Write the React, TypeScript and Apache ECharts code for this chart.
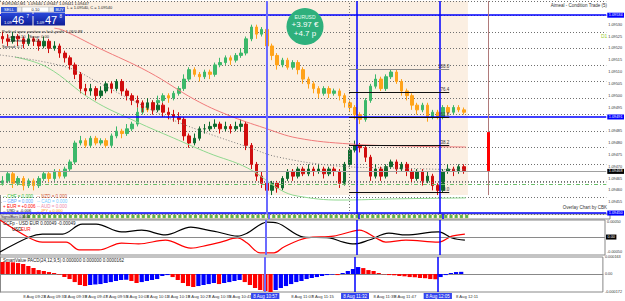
import React, { useEffect, useRef } from 'react';
import * as echarts from 'echarts';

const FONT = 'Liberation Sans, Arial, sans-serif';
const BASE = 1.094; // prices below are pipettes above 1.09400
const TOTAL = 117;

// EURUSD (dark candles)
const aOpen = [125,124,123,125,124,122,124,123,121,123, 120,121,118,116,113,109,103,102,103,100, 102,105,103,106,102,100,98,97,95,97, 94,96,93,92,91,90,83,80,82,86, 86,87,88,86,87,86,87,88,79,71, 66,63,60,63,61,65,68,66,69,67, 69,68,69,67,69,68,63,71,77,79, 78,74,66,69,66,70,72,69,71,68, 65,68,64,66,62,60,68,69,68,70];
const aClose = [124,123,125,124,122,124,123,121,123,120, 121,118,116,113,109,103,102,103,100,102, 105,103,106,102,100,98,97,95,97,94, 96,93,92,91,90,83,80,82,86,86, 87,88,86,87,86,87,88,79,71,66, 63,60,63,61,65,68,66,69,67,69, 68,69,67,69,68,63,71,77,79,78, 74,66,69,66,70,72,69,71,68,65, 68,64,66,62,60,68,69,68,70,68];
const aHigh = [127,126,127,126,125,126,125,124,125,124, 123,122,119,117,114,110,105,105,104,104, 106,106,107,107,103,101,100,98,99,98, 97,97,95,94,93,91,84,84,87,88, 89,90,89,89,88,89,90,89,80,72, 68,65,64,64,66,69,69,70,70,71, 70,71,70,70,70,69,72,78,81,80, 79,75,71,70,71,73,73,72,72,69, 69,69,68,67,63,69,71,70,71,71];
const aLow = [122,121,122,121,120,121,121,119,120,118, 119,116,114,111,107,101,100,100,98,99, 101,101,102,100,98,96,95,93,94,92, 93,91,90,89,88,81,78,79,81,84, 85,86,84,85,84,85,85,77,69,64, 61,58,58,59,60,64,64,65,66,66, 66,67,65,66,66,61,62,70,76,76, 72,64,65,64,65,69,67,68,66,63, 64,62,63,60,58,59,67,66,67,67];

// Overlay symbol (orange / green candles)
const bOpen = [63,64,67,63,65,62,64,62,65,67, 65,68,66,69,72,80,81,79,82,80, 81,79,83,85,84,86,88,93,96,94, 97,98,100,99,101,103,107,111,109,108, 110,109,113,114,116,115,117,118,124,129, 126,128,121,117,113,115,112,114,111,107, 105,103,101,103,101,102,100,97,95,92, 90,98,104,107,103,108,110,106,102,100, 96,94,96,91,93,91,95,93,95,94];
const bClose = [64,67,63,65,62,64,62,65,67,65, 68,66,69,72,80,81,79,82,80,81, 79,83,85,84,86,88,93,96,94,97, 98,100,99,101,103,107,111,109,108,110, 109,113,114,116,115,117,118,124,129,126, 128,121,117,113,115,112,114,111,107,105, 103,101,103,101,102,100,97,95,92,90, 98,104,107,103,108,110,106,102,100,96, 94,96,91,93,91,95,93,95,94,93];
const bHigh = [66,68,68,66,66,65,65,66,68,68, 69,69,70,73,81,83,82,83,83,82, 82,84,87,86,88,89,95,97,97,98, 100,101,101,102,104,109,112,112,110,111, 111,114,116,117,117,118,120,125,130,130, 129,129,122,118,116,116,115,115,112,108, 106,104,104,104,103,103,101,98,96,93, 99,105,109,108,109,111,111,107,103,101, 97,97,97,94,94,96,96,96,96,95];
const bLow = [62,63,61,62,60,61,60,61,64,63, 64,65,65,68,71,79,78,78,79,79, 78,78,82,82,83,85,87,92,93,93, 96,97,97,98,100,102,106,108,106,107, 107,108,112,113,113,114,116,117,123,124, 125,119,115,111,112,111,111,109,105,103, 101,99,100,99,100,98,95,93,90,88, 89,97,103,102,102,107,105,100,98,94, 92,93,89,90,90,90,92,92,93,92];

// Moving averages: [bar position, pipettes]
const maRed = [[10.5,128.5],[12.1,127.7],[19.1,120.1],[28.7,110.0],[37.7,98.2],[44.0,91.8],[51.1,86.3],[57.4,82.1],[67.5,79.6],[78.5,78.7],[89.9,78.3]];
const maGreen = [[2.9,116.3],[9.0,112.1],[17.8,98.2],[26.4,88.9],[33.5,82.1],[40.2,75.8],[47.8,69.4],[54.2,60.1],[57.4,57.6],[65.6,55.9],[76.5,56.4],[89.9,56.8]];
const maGray = [[0,117.2],[12.8,112.1],[19.1,105.4],[25.4,98.2],[32.5,90.6],[38.3,85.5],[47.8,78.3],[53.6,74.1],[65.1,70.3],[76.5,69.4],[89.9,68.6]];

// Fibonacci levels
const fibLevels = [111.3, 101.6, 91.0, 79.2, 59.3];
const fibNames = ['100.0', '76.4', '61.8', '38.2', '0.0'];
const fibFrom = 67.35;
const fibTo = 86.7;

// Horizontal price lines
const blueLines = [134, 91, 50.4];
const currentPrice = 68;
const dottedLine = 63.5;
const dashLine = 62.7;

// Vertical lines (bar position) and their time stamps
const vLines = [51.47, 68.9, 84.96];
const vTimes = ['8 Aug 10:57', '8 Aug 11:32', '8 Aug 12:05'];
const dottedV = 67.35;
const brownV = 94.15;
const spreadBar = [84.6, 68.2];

// Time axis labels (every 4th bar)
const timeLabels = ['8 Aug 2023','8 Aug 09:23','8 Aug 09:31','8 Aug 09:39','8 Aug 09:47','8 Aug 09:55','8 Aug 10:03','8 Aug 10:11','8 Aug 10:19','8 Aug 10:27','8 Aug 10:35','8 Aug 10:43','8 Aug 10:51','8 Aug 10:59','8 Aug 11:07','8 Aug 11:15','8 Aug 11:23','8 Aug 11:31','8 Aug 11:39','8 Aug 11:47','8 Aug 11:55','8 Aug 12:03','8 Aug 12:11'];

// Signal strip
const stripSignal = [0,0,0,0,0,0,0,0,0,0, 0,0,0,0,0,0,0,0,0,0, 0,0,0,0,0,0,0,0,0,0, 0,0,0,0,0,0,0,0,0,0, 0,0,0,0,0,0,0,0,0,0, 0,0,0,0,0,0,0,0,0,0, 0,0,0,0,0,0,0,0,0,0, 0,0,0,0,0,0,0,0,0,0, 0,0,0,0,0,0,0,0,0,0];

// CCFp (units 1e-5): [bar position, value]
const ccfUSD = [[0,-50],[5.7,0],[8.2,10],[12.1,10],[15.9,43],[18.6,43],[23.5,17],[27.4,23],[32.0,7],[36.9,33],[40.2,23],[42.1,17],[45.9,3],[47.8,13],[51.7,50],[53.6,47],[58.7,0],[63.7,-3],[66.4,-17],[68.5,-23],[71.4,-10],[75.2,13],[78.5,7],[84.8,17],[87.4,-3],[89.9,-10]];
const ccfEUR = [[0,57],[5.7,-3],[8.2,-17],[12.8,-17],[15.3,-43],[19.1,-43],[23.5,-20],[26.8,-23],[32.0,-10],[36.9,-37],[40.2,-27],[42.7,-17],[45.9,-3],[47.8,-20],[50.3,-53],[53.0,-53],[54.9,-33],[59.3,-3],[64.5,3],[68.3,20],[69.5,23],[72.7,-3],[74.6,-17],[78.5,-10],[84.8,-17],[87.4,3],[89.9,10]];

// Histogram (units 1e-6)
const histVals = [115,115,112,105,96,77,57,38,29,19, 10,-5,-29,-48,-77,-105,-115,-105,-100,-96, -86,-77,-67,-57,-55,-67,-86,-77,-67,-57, -48,-19,-10,-29,-57,-86,-115,-124,-115,-105, -96,-86,-96,-86,-77,-67,-57,-77,-105,-134, -153,-163,-172,-153,-134,-115,-96,-77,-67,-48, -38,-29,-19,-10,-5,-10,10,29,48,67, 57,38,29,10,-3,-10,-12,-19,-22,-29, -31,-38,-40,-48,-50,-29,-10,10,19,21];

const fmtPrice = (v: number) => (BASE + v / 1e5).toFixed(5);

function buildOption() {
  // a tick label is hidden where a highlighted time stamp covers it
  const covered = (i: number) => vLines.some((c) => i + 4 > c - 2.6 && i < c + 2.6);
  const cats = Array.from({ length: TOTAL }, (_, i) =>
    i % 4 === 0 && i / 4 < timeLabels.length && !covered(i) ? timeLabels[i / 4] : ''
  );
  const boxed = [...blueLines, currentPrice];
  const priceTick = (v: number) => (boxed.some((b) => Math.abs(b - v) < 1.9) ? '' : fmtPrice(v));

  const aData = aOpen.map((o, i) => [o, aClose[i], aLow[i], aHigh[i]]);
  const bData = bOpen.map((o, i) => [o, bClose[i], bLow[i], bHigh[i]]);
  const histData = histVals.map((v, i) => ({
    value: v,
    itemStyle: { color: i > 0 && v > histVals[i - 1] ? '#0000ff' : '#ff0000' },
  }));

  const boxLabel = (text: string, bg: string) => ({
    show: true, position: 'end', distance: 1, formatter: text, color: '#fff',
    backgroundColor: bg, padding: [1, 1.5, 0, 1.5], fontSize: 3.8, fontFamily: FONT,
  });

  const vStyles = [
    { color: '#6b6bff', width: 2 },
    { color: '#0000ff', width: 1.5 },
    { color: '#0000ff', width: 1.5 },
  ];
  const vMarks = (withTime: boolean) =>
    vLines.map((x, i) => ({
      xAxis: x,
      lineStyle: { ...vStyles[i], type: 'solid' },
      label: withTime
        ? { show: true, position: 'start', distance: 1, formatter: vTimes[i], color: '#fff', backgroundColor: '#3344ee', padding: [1, 2, 0, 2], fontSize: 4.5, fontFamily: FONT }
        : { show: false },
    }));

  const mainMarks: any[] = [
    ...blueLines.map((y) => ({ yAxis: y, lineStyle: { color: '#0000ff', width: 1.5, type: 'solid' }, label: boxLabel(fmtPrice(y), '#0000ff') })),
    { yAxis: currentPrice, lineStyle: { color: '#a0a0a0', width: 1, type: 'solid' }, label: boxLabel(fmtPrice(currentPrice), '#000') },
    { yAxis: dottedLine, lineStyle: { color: '#888', width: 1, type: [1, 2] }, label: { show: false } },
    { yAxis: dashLine, lineStyle: { color: '#6cbf6c', width: 1, type: [4, 2, 1, 2] }, label: { show: false } },
    ...vMarks(false),
    { xAxis: dottedV, lineStyle: { color: '#777', width: 1, type: [1, 2] }, label: { show: false } },
    [{ coord: [brownV, 140], lineStyle: { color: '#b07a7a', width: 1, type: 'solid' }, label: { show: false } }, { coord: [brownV, 58] }],
    [{ coord: [brownV, spreadBar[0]], lineStyle: { color: '#ff0000', width: 3, type: 'solid' }, label: { show: false } }, { coord: [brownV, spreadBar[1]] }],
    ...fibLevels.map((y, i) => [
      {
        coord: [fibFrom, y],
        lineStyle: { color: i === 0 ? '#8a8a8a' : '#111', width: 1, type: 'solid' },
        label: { show: true, position: 'insideEndTop', distance: 0, formatter: fibNames[i], fontSize: 4.5, color: '#333', fontFamily: FONT },
      },
      { coord: [fibTo, y] },
    ]),
  ];

  const elements: any[] = [
    // header texts
    { type: 'text', x: 2, y: 1, z: 100, style: { text: 'EURUSD,M1  1.09440 1.09447 1.09441 1.09447', fill: '#222', fontSize: 4, fontFamily: FONT } },
    { type: 'text', x: 67, y: 5, z: 100, style: { text: 'L = 1.09540, C = 1.09540', fill: '#222', fontSize: 4, fontFamily: FONT } },
    { type: 'text', x: 607, y: 3, z: 100, style: { text: 'Aimeal - Condition Trade (5)', fill: '#333', fontSize: 4.5, fontFamily: FONT, align: 'right' } },
    { type: 'text', x: 601, y: 33, z: 100, style: { text: 'D1', fill: '#9acd32', fontSize: 5, fontFamily: FONT } },
    { type: 'text', x: 607, y: 205, z: 100, style: { text: 'Overlay Chart by CBK', fill: '#333', fontSize: 4.5, fontFamily: FONT, align: 'right' } },
    // trade panel
    { type: 'rect', z: 100, shape: { x: 1, y: 7, width: 16, height: 5 }, style: { fill: '#3358d6' } },
    { type: 'text', z: 101, x: 9, y: 9.5, style: { text: 'SELL', fill: '#fff', fontSize: 4, fontFamily: FONT, align: 'center', verticalAlign: 'middle' } },
    { type: 'rect', z: 100, shape: { x: 17, y: 7, width: 5, height: 5 }, style: { fill: '#ececec', stroke: '#aaa', lineWidth: 0.5 } },
    { type: 'rect', z: 100, shape: { x: 22, y: 7, width: 27, height: 5 }, style: { fill: '#fff', stroke: '#aaa', lineWidth: 0.5 } },
    { type: 'text', z: 101, x: 35.5, y: 9.5, style: { text: '0.10', fill: '#222', fontSize: 4, fontFamily: FONT, align: 'center', verticalAlign: 'middle' } },
    { type: 'rect', z: 100, shape: { x: 49, y: 7, width: 5, height: 5 }, style: { fill: '#ececec', stroke: '#aaa', lineWidth: 0.5 } },
    { type: 'rect', z: 100, shape: { x: 54, y: 7, width: 11, height: 5 }, style: { fill: '#3358d6' } },
    { type: 'text', z: 101, x: 59.5, y: 9.5, style: { text: 'BUY', fill: '#fff', fontSize: 4, fontFamily: FONT, align: 'center', verticalAlign: 'middle' } },
    { type: 'rect', z: 100, shape: { x: 1, y: 12.5, width: 31.5, height: 13 }, style: { fill: new echarts.graphic.LinearGradient(0, 0, 0, 1, [{ offset: 0, color: '#2a49dc' }, { offset: 1, color: '#0e1d96' }]) } },
    { type: 'rect', z: 100, shape: { x: 33.5, y: 12.5, width: 31.5, height: 13 }, style: { fill: new echarts.graphic.LinearGradient(0, 0, 0, 1, [{ offset: 0, color: '#2a49dc' }, { offset: 1, color: '#0e1d96' }]) } },
    { type: 'text', z: 101, x: 4, y: 20, style: { text: '1.09', fill: '#fff', fontSize: 4, fontFamily: FONT } },
    { type: 'text', z: 101, x: 12, y: 14, style: { text: '46', fill: '#fff', fontSize: 11, fontFamily: FONT } },
    { type: 'text', z: 101, x: 26.5, y: 14, style: { text: '7', fill: '#fff', fontSize: 4.5, fontFamily: FONT } },
    { type: 'text', z: 101, x: 36.5, y: 20, style: { text: '1.09', fill: '#fff', fontSize: 4, fontFamily: FONT } },
    { type: 'text', z: 101, x: 45, y: 14, style: { text: '47', fill: '#fff', fontSize: 11, fontFamily: FONT } },
    { type: 'text', z: 101, x: 59.5, y: 14, style: { text: '8', fill: '#fff', fontSize: 4.5, fontFamily: FONT } },
    // info block
    { type: 'text', x: 2, y: 29, z: 100, style: { text: 'Profit of open position or lock profit: 1.06/0.88', fill: '#222', fontSize: 4, fontFamily: FONT } },
    { type: 'text', x: 8, y: 34, z: 100, style: { text: 'Lots: 0.10   Swap: 0.00', fill: '#222', fontSize: 4, fontFamily: FONT } },
    { type: 'text', x: 8, y: 38.5, z: 100, style: { text: 'Commission: 0.00', fill: '#222', fontSize: 4, fontFamily: FONT } },
    { type: 'text', x: 2, y: 44, z: 100, style: { text: 'Spread: 0.7', fill: '#222', fontSize: 4, fontFamily: FONT } },
    // profit badge
    { type: 'circle', z: 100, shape: { cx: 305, cy: 26.5, r: 18.5 }, style: { fill: '#2eb07c' } },
    { type: 'text', z: 101, x: 305, y: 16.5, style: { text: 'EURUSD', fill: '#e6fff2', fontSize: 5, fontFamily: FONT, align: 'center', verticalAlign: 'middle' } },
    { type: 'text', z: 101, x: 305, y: 24.5, style: { text: '+3.97 €', fill: '#fff', fontSize: 8, fontFamily: FONT, align: 'center', verticalAlign: 'middle' } },
    { type: 'text', z: 101, x: 305, y: 33.5, style: { text: '+4.7 p', fill: '#fff', fontSize: 8, fontFamily: FONT, align: 'center', verticalAlign: 'middle' } },
    // currency legend
    { type: 'text', x: 3, y: 194, z: 100, style: { text: '-- CHF = 0.000', fill: '#33bb33', fontSize: 4.5, fontFamily: FONT } },
    { type: 'text', x: 37, y: 194, z: 100, style: { text: '-- NZD = 0.000', fill: '#cc5533', fontSize: 4.5, fontFamily: FONT } },
    { type: 'text', x: 3, y: 199, z: 100, style: { text: '-- GBP = 0.000', fill: '#66aaff', fontSize: 4.5, fontFamily: FONT } },
    { type: 'text', x: 37, y: 199, z: 100, style: { text: '-- CAD = 0.000', fill: '#77ccff', fontSize: 4.5, fontFamily: FONT } },
    { type: 'text', x: 3, y: 204, z: 100, style: { text: '+ EUR = +0.006', fill: '#ff0000', fontSize: 4.5, fontFamily: FONT } },
    { type: 'text', x: 37, y: 204, z: 100, style: { text: '-- AUD = 0.000', fill: '#ee88aa', fontSize: 4.5, fontFamily: FONT } },
    { type: 'text', x: 3, y: 208.5, z: 100, style: { text: '-- USD = -0.006', fill: '#000', fontSize: 4, fontFamily: FONT } },
    { type: 'text', x: 37, y: 208.5, z: 100, style: { text: '-- JPY = 0.000', fill: '#ff9900', fontSize: 4, fontFamily: FONT } },
    // indicator captions
    { type: 'rect', z: 100, shape: { x: 0, y: 214.5, width: 23, height: 4 }, style: { fill: '#e8e8e8', stroke: '#999', lineWidth: 0.5 } },
    { type: 'text', x: 1, y: 215, z: 101, style: { text: 'SignalBars 0.0000', fill: '#222', fontSize: 3.5, fontFamily: FONT } },
    { type: 'text', x: 3, y: 221, z: 100, style: { text: 'CCFp - USD EUR 0.00049 -0.00049', fill: '#222', fontSize: 4.5, fontFamily: FONT } },
    { type: 'text', x: 12, y: 226.5, z: 100, style: { text: 'USD', fill: '#000', fontSize: 4.5, fontFamily: FONT } },
    { type: 'text', x: 21, y: 226.5, z: 100, style: { text: 'EUR', fill: '#ff0000', fontSize: 4.5, fontFamily: FONT } },
    { type: 'text', x: 3, y: 258, z: 100, style: { text: 'SmartValue PACD(24,12,9,5) 0.000000 0.000000 0.0000162', fill: '#222', fontSize: 4.5, fontFamily: FONT } },
  ];

  const hiddenCat = (g: number) => ({ type: 'category', gridIndex: g, data: cats, boundaryGap: true, show: false });
  const hiddenVal = (g: number) => ({ type: 'value', gridIndex: g, min: 0, max: TOTAL, show: false });
  const axisLbl = { fontSize: 3.8, color: '#333', margin: 2, fontFamily: FONT };
  const R = 15;

  return {
    animation: false,
    backgroundColor: '#ffffff',
    textStyle: { fontFamily: FONT },
    grid: [
      { left: 0, right: R, top: 1, height: 213 },
      { left: 0, right: R, top: 214, height: 5, show: true, borderColor: '#888', borderWidth: 1 },
      { left: 0, right: R, top: 220, height: 35, show: true, borderColor: '#888', borderWidth: 1 },
      { left: 0, right: R, top: 257, height: 35, show: true, borderColor: '#888', borderWidth: 1 },
    ],
    xAxis: [
      hiddenCat(0), hiddenVal(0),
      hiddenCat(1), hiddenVal(1),
      hiddenCat(2), hiddenVal(2),
      {
        type: 'category', gridIndex: 3, data: cats, boundaryGap: true,
        axisLine: { show: true, lineStyle: { color: '#888' } },
        axisTick: { show: false },
        axisLabel: { fontSize: 4.2, color: '#333', margin: 2, fontFamily: FONT, interval: 3, align: 'left' },
      },
      hiddenVal(3),
    ],
    yAxis: [
      {
        type: 'value', gridIndex: 0, position: 'right', min: 50, max: 140, interval: 5,
        axisLine: { show: true, lineStyle: { color: '#888' } },
        axisTick: { show: true, length: 1.5, lineStyle: { color: '#888' } },
        splitLine: { show: false },
        axisLabel: { ...axisLbl, showMinLabel: false, showMaxLabel: false, formatter: priceTick },
      },
      {
        type: 'value', gridIndex: 0, position: 'right', min: 50, max: 140, interval: 7, z: 2,
        axisLine: { show: false }, axisTick: { show: false }, axisLabel: { show: false },
        splitLine: { show: true, lineStyle: { color: '#6f6f6f', width: 1, type: [1, 2] } },
      },
      { type: 'value', gridIndex: 1, min: -1, max: 1, show: false },
      {
        type: 'value', gridIndex: 2, position: 'right', min: -60, max: 57,
        axisLine: { show: true, lineStyle: { color: '#888' } }, axisTick: { show: false },
        splitLine: { show: false },
        axisLabel: { ...axisLbl, customValues: [50, -50], formatter: (v: number) => (v / 1e5).toFixed(5) },
      },
      {
        type: 'value', gridIndex: 3, position: 'right', min: -172, max: 163,
        axisLine: { show: true, lineStyle: { color: '#888' } }, axisTick: { show: false },
        splitLine: { show: false },
        axisLabel: { ...axisLbl, customValues: [163, 0, -172], formatter: (v: number) => (v === 0 ? '0.00' : (v / 1e6).toFixed(6)) },
      },
    ],
    series: [
      {
        type: 'line', xAxisIndex: 1, yAxisIndex: 0, data: [], z: 1, silent: true,
        markArea: { silent: true, z: 1, itemStyle: { color: '#fbefe2' }, data: [[{ coord: [0, 58] }, { coord: [90.3, 140] }]] },
        markLine: { silent: true, z: 5, symbol: ['none', 'none'], label: { show: false }, data: mainMarks },
      },
      {
        type: 'candlestick', name: 'Overlay', xAxisIndex: 0, yAxisIndex: 0, data: bData, z: 3, barWidth: 3,
        itemStyle: { color: '#3cb86a', color0: '#ffa31a', borderColor: '#3cb86a', borderColor0: '#ffa31a', borderWidth: 1 },
      },
      {
        type: 'candlestick', name: 'EURUSD', xAxisIndex: 0, yAxisIndex: 0, data: aData, z: 3, barWidth: 3,
        itemStyle: { color: '#0f6b2f', color0: '#d00d0d', borderColor: '#0f6b2f', borderColor0: '#d00d0d', borderWidth: 1 },
      },
      { type: 'line', xAxisIndex: 1, yAxisIndex: 0, data: maRed, smooth: 0.4, showSymbol: false, z: 4, lineStyle: { color: '#f07a7a', width: 1 } },
      { type: 'line', xAxisIndex: 1, yAxisIndex: 0, data: maGreen, smooth: 0.4, showSymbol: false, z: 4, lineStyle: { color: '#8fd88f', width: 1 } },
      { type: 'line', xAxisIndex: 1, yAxisIndex: 0, data: maGray, smooth: 0.4, showSymbol: false, z: 4, lineStyle: { color: '#7a7a7a', width: 1, type: [1, 2] } },
      // strip
      {
        type: 'scatter', xAxisIndex: 2, yAxisIndex: 2, data: stripSignal, symbol: 'rect', symbolSize: 3, z: 3,
        itemStyle: { color: '#1f9a3a', borderColor: '#d8d000', borderWidth: 0.4 },
      },
      {
        type: 'line', xAxisIndex: 3, yAxisIndex: 2, data: [], silent: true,
        markLine: { silent: true, symbol: ['none', 'none'], label: { show: false }, data: vMarks(false) },
      },
      // CCFp
      { type: 'line', xAxisIndex: 5, yAxisIndex: 3, data: ccfUSD, smooth: 0.35, showSymbol: false, z: 4, lineStyle: { color: '#000', width: 1.2 } },
      { type: 'line', xAxisIndex: 5, yAxisIndex: 3, data: ccfEUR, smooth: 0.35, showSymbol: false, z: 4, lineStyle: { color: '#ff0000', width: 1.2 } },
      {
        type: 'line', xAxisIndex: 5, yAxisIndex: 3, data: [], silent: true,
        markLine: {
          silent: true, symbol: ['none', 'none'], label: { show: false },
          data: [
            { yAxis: 0, lineStyle: { color: '#8a8a8a', width: 1, type: 'solid' }, label: boxLabel('0.00', '#000') },
            ...vMarks(false),
          ],
        },
      },
      // histogram
      { type: 'bar', xAxisIndex: 6, yAxisIndex: 4, data: histData, barCategoryGap: '18%', z: 3 },
      {
        type: 'line', xAxisIndex: 7, yAxisIndex: 4, data: [], silent: true,
        markLine: { silent: true, symbol: ['none', 'none'], label: { show: false }, data: vMarks(true) },
      },
    ],
    graphic: { elements },
  };
}

export default function App() {
  const ref = useRef<HTMLDivElement>(null);
  useEffect(() => {
    if (!ref.current) return;
    const chart = echarts.init(ref.current, null, { renderer: 'svg' });
    chart.setOption(buildOption() as any);
    return () => chart.dispose();
  }, []);
  return <div ref={ref} style={{ position: 'fixed', left: 0, top: 0, width: 625, height: 301 }} />;
}
